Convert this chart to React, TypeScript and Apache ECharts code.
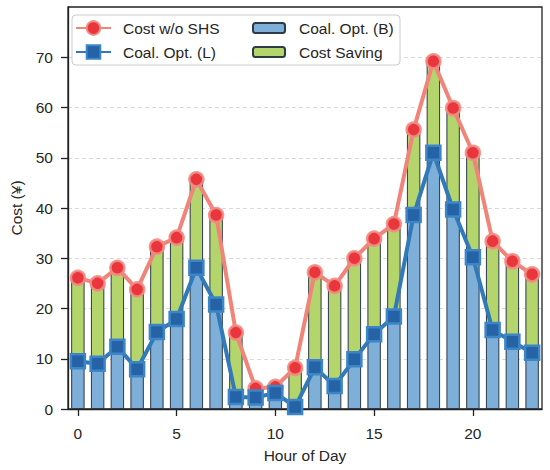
import React, { useEffect, useRef } from "react";
import * as echarts from "echarts";

const hours = Array.from({ length: 24 }, (_, i) => String(i));
const costWithoutSHS = [26.1, 25.0, 28.1, 23.8, 32.3, 34.1, 45.7, 38.6, 15.2, 4.1, 4.4, 8.2, 27.2, 24.5, 30.0, 33.9, 36.8, 55.6, 69.2, 59.9, 51.0, 33.4, 29.4, 26.8];
const coalOptL = [9.5, 9.0, 12.4, 7.9, 15.3, 17.9, 28.1, 20.8, 2.4, 2.3, 3.2, 0.4, 8.3, 4.6, 9.9, 14.9, 18.4, 38.6, 51.0, 39.7, 30.2, 15.7, 13.4, 11.2];
const coalOptB = [9.5, 9.0, 12.4, 7.9, 15.3, 17.9, 28.1, 20.8, 2.4, 2.3, 3.2, 0.4, 8.3, 4.6, 9.9, 14.9, 18.4, 38.6, 51.0, 39.7, 30.2, 15.7, 13.4, 11.2];
const costSaving = costWithoutSHS.map((v, i) => +(v - coalOptB[i]).toFixed(2));
const yTicks = [0, 10, 20, 30, 40, 50, 60, 70];

const FONT = "'Liberation Sans', Arial, sans-serif";
const TXT = "#262626";

export default function App() {
  const ref = useRef<HTMLDivElement>(null);
  useEffect(() => {
    document.body.style.margin = "0";
    const chart = echarts.init(ref.current!, undefined, { renderer: "svg" });
    chart.setOption({
      animation: false,
      backgroundColor: "#fff",
      textStyle: { fontFamily: FONT, color: TXT },
      grid: {
        left: 62,
        right: 8,
        top: 7,
        bottom: 61,
        show: true,
        borderColor: "#222",
        borderWidth: 1.3,
        backgroundColor: "transparent",
      },
      graphic: [
        {
          type: "rect",
          z: 1,
          shape: { x: 72, y: 15, width: 328, height: 50, r: 4 },
          style: { fill: "rgba(255,255,255,0.9)", stroke: "#cccccc", lineWidth: 1 },
        },
      ],
      legend: [
        {
          z: 10,
          left: 75,
          top: 19,
          orient: "vertical",
          padding: 0,
          itemWidth: 35,
          itemHeight: 17,
          itemGap: 6,
          data: ["Cost w/o SHS", "Coal. Opt. (L)"],
          textStyle: { fontFamily: FONT, fontSize: 15.5, lineHeight: 18, color: TXT, padding: [0, 0, 0, 7] },
        },
        {
          z: 10,
          left: 252,
          top: 19,
          orient: "vertical",
          padding: 0,
          itemWidth: 32,
          itemHeight: 10,
          itemGap: 6,
          data: ["Coal. Opt. (B)", "Cost Saving"],
          textStyle: { fontFamily: FONT, fontSize: 15.5, lineHeight: 18, color: TXT, padding: [0, 0, 0, 9] },
        },
      ],
      xAxis: {
        type: "category",
        data: hours,
        boundaryGap: true,
        name: "Hour of Day",
        nameLocation: "middle",
        nameGap: 38,
        nameTextStyle: { fontFamily: FONT, fontSize: 15.5, color: TXT },
        axisLine: { lineStyle: { color: "#222", width: 1.3 } },
        axisTick: { show: true, interval: 4, alignWithLabel: true, length: 7, lineStyle: { color: "#222", width: 1.3 } },
        axisLabel: { interval: 4, margin: 16, fontFamily: FONT, fontSize: 15.5, color: TXT },
        splitLine: { show: false },
      },
      yAxis: {
        type: "value",
        min: 0,
        max: 80,
        interval: 10,
        name: "Cost (¥)",
        nameLocation: "middle",
        nameGap: 44,
        nameRotate: 90,
        nameTextStyle: { fontFamily: FONT, fontSize: 15.5, color: TXT },
        axisLine: { show: true, lineStyle: { color: "#222", width: 1.3 } },
        axisTick: { show: true, length: 7, customValues: yTicks, lineStyle: { color: "#222", width: 1.3 } },
        axisLabel: { margin: 15, customValues: yTicks, fontFamily: FONT, fontSize: 15.5, color: TXT },
        splitLine: { show: true, lineStyle: { color: "#cfcfcf", type: [4, 3], width: 0.8 } },
      },
      series: [
        {
          name: "Coal. Opt. (B)",
          type: "bar",
          stack: "cost",
          data: coalOptB,
          barWidth: "68%",
          itemStyle: { color: "#7dafd9", borderColor: "#2d3a47", borderWidth: 1 },
          z: 2,
        },
        {
          name: "Cost Saving",
          type: "bar",
          stack: "cost",
          data: costSaving,
          barWidth: "68%",
          itemStyle: { color: "#b4d46c", borderColor: "#2d3a47", borderWidth: 1 },
          z: 2,
        },
        {
          name: "Cost w/o SHS",
          type: "line",
          data: costWithoutSHS,
          symbol: "circle",
          symbolSize: 14,
          showAllSymbol: true,
          lineStyle: { color: "#f08478", width: 4 },
          itemStyle: { color: "#e8363c", borderColor: "rgba(242,140,132,0.9)", borderWidth: 2.5 },
          z: 3,
        },
        {
          name: "Coal. Opt. (L)",
          type: "line",
          data: coalOptL,
          symbol: "rect",
          symbolSize: 14,
          showAllSymbol: true,
          lineStyle: { color: "#3179b8", width: 4 },
          itemStyle: { color: "#2562a6", borderColor: "#3d86c6", borderWidth: 2.5 },
          z: 4,
        },
      ],
    });
    return () => chart.dispose();
  }, []);
  return <div ref={ref} style={{ position: "absolute", left: 0, top: 0, width: 550, height: 470 }} />;
}
